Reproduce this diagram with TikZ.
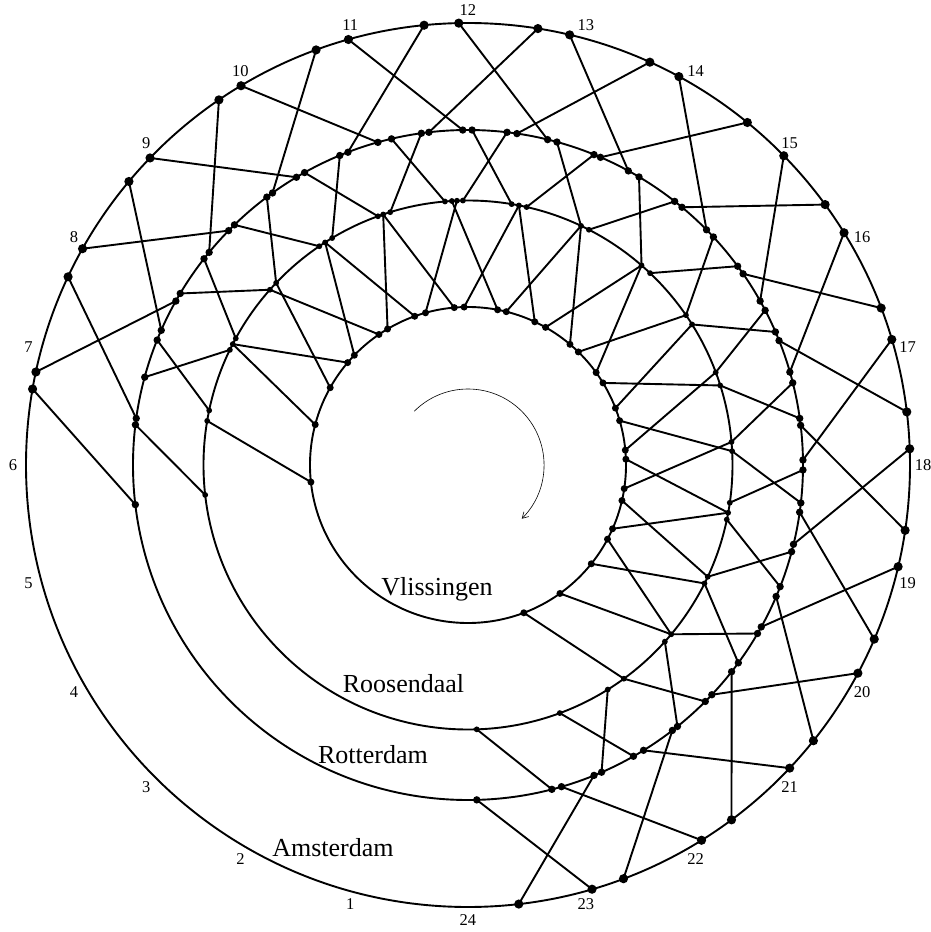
\documentclass[tikz,border=0pt]{standalone}
\usepackage{fontspec}
\setmainfont{Liberation Serif}
\usetikzlibrary{arrows.meta}
\begin{document}
\begin{tikzpicture}[x=1pt,y=1pt,
  ring/.style={line width=1.9pt},
  trainline/.style={line width=1.9pt},
  hourlabel/.style={font=\fontsize{16.5}{16.5}\selectfont},
  stationlabel/.style={font=\fontsize{26}{26}\selectfont, anchor=base}]
\useasboundingbox (-468,-467) rectangle (463,465);
\coordinate (C) at (0,0);
% station circles
\draw[ring] (C) circle[radius=442];
\draw[ring] (C) circle[radius=335];
\draw[ring] (C) circle[radius=264.5];
\draw[ring] (C) circle[radius=158];
% Amsterdam events
\foreach \n/\a in {1/170.1, 2/167.85, 3/154.8, 4/150.7, 5/140.1, 6/136.0, 7/124.3, 8/120.9, 9/110.1, 10/105.7, 11/95.7, 12/91.2, 13/80.9, 14/76.7, 15/65.7, 16/61.5, 17/50.8, 18/44.4, 19/36.1, 20/31.7, 21/20.8, 22/16.5, 23/6.9, 24/2.1, 25/-8.5, 26/-13.3, 27/-23.2, 28/-28.1, 29/-38.6, 30/-43.3, 31/-53.4, 32/-58.1, 33/-69.4, 34/-73.7, 35/-83.4}
  \coordinate (O\n) at (\a:442);
% Rotterdam events
\foreach \n/\a in {1/186.8, 2/173.1, 3/172.0, 4/164.8, 5/158.1, 6/156.3, 7/150.7, 8/149.2, 9/142.0, 10/140.6, 11/135.6, 12/134.2, 13/126.9, 14/125.7, 15/120.8, 16/119.2, 17/112.5, 18/111.0, 19/105.6, 20/103.2, 21/98.0, 22/96.7, 23/90.9, 24/89.3, 25/83.3, 26/81.6, 27/76.25, 28/74.6, 29/67.9, 30/66.7, 31/61.4, 32/59.3, 33/51.9, 34/50.3, 35/44.6, 36/42.9, 37/36.4, 38/34.8, 39/29.3, 40/27.5, 41/23.4, 42/21.8, 43/16.1, 44/14.2, 45/8.0, 46/6.8, 47/0.85, 48/-0.85, 49/-6.5, 50/-8.1, 51/-13.7, 52/-15.0, 53/-21.3, 54/-23.1, 55/-28.9, 56/-30.2, 57/-36.2, 58/-38.1, 59/-43.3, 60/-44.9, 61/-51.3, 62/-52.4, 63/-58.4, 64/-60.4, 65/-66.5, 66/-67.9, 67/-73.8, 68/-75.5, 69/-88.5}
  \coordinate (T\n) at (\a:335);
% Roosendaal events
\foreach \n/\a in {5/186.5, 6a/170.4, 6b/168.1, 7a/154.2, 7b/152.8, 7c/151.4, 8a/138.5, 8b/136.5, 9a/124.2, 9b/122.7, 9c/120.9, 10a/109.9, 10b/108.7, 10c/107.1, 11a/95.0, 11b/93.5, 11c/92.4, 11d/91.1, 12a/80.5, 12b/78.9, 12c/77.2, 13a/64.7, 13b/62.8, 14a/49.0, 14b/46.5, 15a/34.5, 15b/32.1, 16a/20.5, 16b/17.5, 17a/5.0, 17b/3.0, 18a/-8.2, 18b/-10.4, 18c/-11.9, 19a/-25.0, 19b/-26.6, 20a/-39.8, 20b/-41.9, 21a/-53.9, 21b/-58.1, 22a/-69.7, 23a/-88.1}
  \coordinate (R\n) at (\a:264.5);
% Vlissingen events
\foreach \n/\a in {n5/186.2, n6/165.2, n7/150.7, s8/139.6, n8/136.0, s9/124.3, n9/120.6, s10/109.7, n10/105.6, s11/95.0, n11/91.4, s12/79.2, n12/76.0, s13/65.0, n13/60.6, s14/49.8, n14/45.7, s15/35.8, n15/31.3, s16/21.1, n16/16.3, s17/5.4, n17/2.1, s18/-8.6, n18/-13.0, s19/-23.8, n19/-28.0, s20/-38.7, s21/-54.4, s22/-69.3}
  \coordinate (V\n) at (\a:158);
% train runs
\foreach \a/\b in {O1/T1, O2/T7, O3/T3, O4/T11, O5/T6, O6/T15, O7/T10, O8/T19, O9/T14, O10/T23, O11/T18, O12/T27, O13/T22, O14/T31, O15/T26, O16/T35, O17/T30, O18/T39, O19/T34, O20/T43, O21/T38, O22/T47, O23/T42, O24/T51, O25/T46, O26/T55, O27/T50, O28/T59, O29/T54, O30/T63, O31/T58, O32/T67, O33/T62, O34/T69, O35/T66,
  T2/R5, T5/R6b, T9/R7c, T13/R8b, T17/R9c, T21/R10c, T25/R11d, T29/R12c, T33/R13b, T37/R14b, T41/R15b, T45/R16b, T49/R17b, T53/R18c, T57/R19b, T61/R20b, T65/R21b,
  T4/R7a, T8/R8a, T12/R9a, T16/R10a, T20/R11a, T24/R12a, T28/R13a, T32/R14a, T36/R15a, T40/R16a, T44/R17a, T48/R18a, T52/R19a, T56/R20a, T60/R21a, T64/R22a, T68/R23a,
  Vn5/R6a, Vn6/R7b, Vn7/R8b, Vn8/R9b, Vn9/R10b, Vn10/R11c, Vn11/R12b, Vn12/R13a, Vn13/R14a, Vn14/R15a, Vn15/R16b, Vn16/R17b, Vn17/R18b, Vn18/R19a, Vn19/R20a,
  R7b/Vs8, R8a/Vs9, R9b/Vs10, R10b/Vs11, R11b/Vs12, R12b/Vs13, R13a/Vs14, R14a/Vs15, R15b/Vs16, R16a/Vs17, R17a/Vs18, R18b/Vs19, R19b/Vs20, R20a/Vs21, R21a/Vs22}
  \draw[trainline] (\a) -- (\b);
% dots
\foreach \n in {1,...,35} \fill (O\n) circle[radius=4.6];
\foreach \n in {1,...,69} \fill (T\n) circle[radius=3.7];
\foreach \n in {5, 6a, 6b, 7a, 7b, 7c, 8a, 8b, 9a, 9b, 9c, 10a, 10b, 10c, 11a, 11b, 11c, 11d, 12a, 12b, 12c, 13a, 13b, 14a, 14b, 15a, 15b, 16a, 16b, 17a, 17b, 18a, 18b, 18c, 19a, 19b, 20a, 20b, 21a, 21b, 22a, 23a}
  \fill (R\n) circle[radius=2.9];
\foreach \n in {n5, n6, n7, s8, n8, s9, n9, s10, n10, s11, n11, s12, n12, s13, n13, s14, n14, s15, n15, s16, n16, s17, n17, s18, n18, s19, n19, s20, s21, s22}
  \fill (V\n) circle[radius=3.5];
% hour labels
\foreach \h in {1,...,24}
  \node[hourlabel] (hour\h) at ({270-15*\h}:455) {\h};
% station names
\node[stationlabel] (vlissingen) at (-31,-130) {Vlissingen};
\node[stationlabel] (roosendaal) at (-64.5,-227) {Roosendaal};
\node[stationlabel] (rotterdam) at (-95,-298) {Rotterdam};
\node[stationlabel] (amsterdam) at (-135,-391) {Amsterdam};
% direction of time
\draw[line width=0.6pt, -{Straight Barb[length=6pt,width=7pt]}] (135:76) arc[start angle=135, end angle=-45, radius=76];
\end{tikzpicture}
\end{document}
